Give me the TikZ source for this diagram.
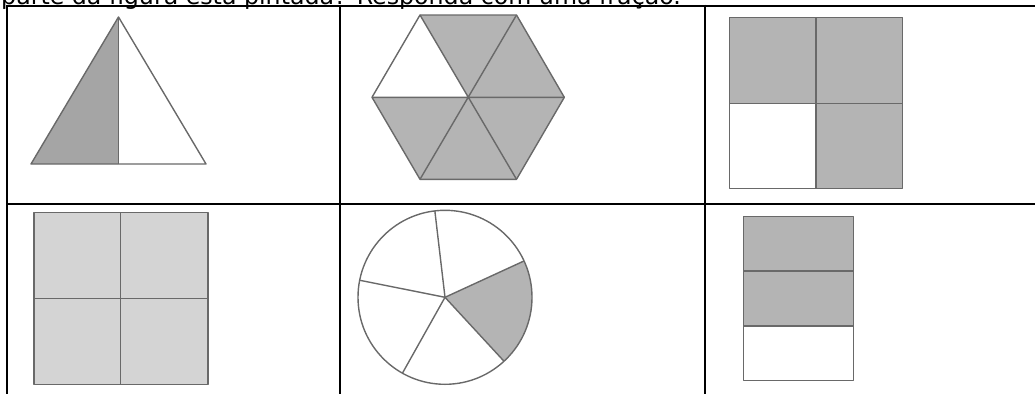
\documentclass[tikz,border=0pt]{standalone}
\usepackage{fontspec}
\newfontfamily\vfont{DejaVu Sans}
\definecolor{shadeA}{RGB}{180,180,180}
\definecolor{shadeT}{RGB}{165,165,165}
\definecolor{shadeL}{RGB}{212,212,212}
\definecolor{edgegray}{RGB}{105,105,105}
\begin{document}
\begin{tikzpicture}[x=1pt,y=-1pt,
  gridline/.style={line width=2pt,black},
  figline/.style={draw=edgegray,line width=1.4pt,line join=round},
  darkfill/.style={fill=shadeA},
  trifill/.style={fill=shadeT},
  lightfill/.style={fill=shadeL}]
\useasboundingbox (0,0) rectangle (1035,394);
\clip (0,0) rectangle (1035,394);
% heading (cut off at the top, as in the reference)
\node[anchor=base west,inner sep=0pt] (head) at (1,4)
  {\vfont\fontsize{23.7}{28}\selectfont parte da figura está pintada? Responda com uma fração.};
% table
\draw[gridline] (6.5,5.5) -- (1035,5.5);
\draw[gridline] (6.5,204) -- (1035,204);
\draw[gridline] (6.5,4.5) -- (6.5,394);
\draw[gridline] (340,4.5) -- (340,394);
\draw[gridline] (705,4.5) -- (705,394);
% triangle
\fill[trifill] (118.5,17) -- (31,164) -- (118.5,164) -- cycle;
\draw[figline] (118.5,17) -- (31,164) -- (206,164) -- cycle;
\draw[figline] (118.5,17) -- (118.5,164);
% hexagon
\coordinate (hc) at (468,97.3);
\coordinate (h1) at (420,15);
\coordinate (h2) at (516.5,15);
\coordinate (h3) at (564.3,97.3);
\coordinate (h4) at (516.5,179.3);
\coordinate (h5) at (420,179.3);
\coordinate (h6) at (372,97.3);
\fill[darkfill] (h1) -- (h2) -- (h3) -- (h4) -- (h5) -- (h6) -- cycle;
\fill[white] (hc) -- (h6) -- (h1) -- cycle;
\draw[figline] (h1) -- (h2) -- (h3) -- (h4) -- (h5) -- (h6) -- cycle;
\draw[figline] (h1) -- (h4) (h2) -- (h5) (h3) -- (h6);
% square with 3 of 4 shaded
\fill[darkfill] (729.3,17.3) rectangle (902.7,188.3);
\fill[white] (729.3,103.3) rectangle (816,188.3);
\draw[figline] (729.3,17.3) rectangle (902.7,188.3);
\draw[figline] (816,17.3) -- (816,188.3) (729.3,103.3) -- (902.7,103.3);
% square fully shaded
\fill[lightfill] (34,212.7) rectangle (208,384.3);
\draw[figline] (34,212.7) rectangle (208,384.3);
\draw[figline] (120.7,212.7) -- (120.7,384.3) (34,298.3) -- (208,298.3);
% circle in five parts (y axis points down, so angles turn clockwise)
\begin{scope}[shift={(445,297.3)}]
  \fill[darkfill] (0,0) -- (-24.7:87) arc[start angle=-24.7,end angle=47.3,radius=87] -- cycle;
  \draw[figline] (0,0) circle[radius=87];
  \foreach \a in {-24.7,-96.7,-168.7,-240.7,-312.7}
    \draw[figline] (0,0) -- (\a:87);
\end{scope}
% rectangle in three parts
\fill[darkfill] (743.3,216.7) rectangle (853.3,326);
\draw[figline] (743.3,216.7) rectangle (853.3,380.7);
\draw[figline] (743.3,271) -- (853.3,271) (743.3,326) -- (853.3,326);
\end{tikzpicture}
\end{document}
